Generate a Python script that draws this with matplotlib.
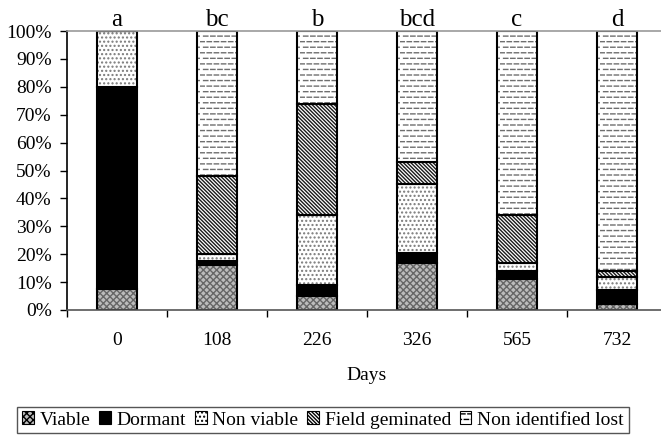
import warnings
import matplotlib
matplotlib.use("Agg")
import matplotlib.pyplot as plt
import numpy as np
from matplotlib.patches import Patch
from matplotlib import hatch as mhatch
from matplotlib.path import Path

warnings.filterwarnings("ignore")
plt.rcParams['font.family'] = ['Liberation Serif', 'DejaVu Serif']
plt.rcParams['hatch.linewidth'] = 1.0


class DashHatch(mhatch.HatchPatternBase):
    """Rows of short horizontal dashes, selected with '_'."""
    def __init__(self, hatch, density):
        self.rows = hatch.count('_') * density
        self.cols = 14
        self.num_vertices = self.rows * self.cols * 2

    def set_vertices_and_codes(self, vertices, codes):
        k = 0
        for i in range(self.rows):
            y = (i + 0.5) / self.rows
            off = 0.0 if i % 2 == 0 else 0.5 / self.cols
            for j in range(self.cols):
                x0 = j / self.cols + off
                x1 = x0 + 0.6 / self.cols
                vertices[k] = (x0, y)
                vertices[k + 1] = (x1, y)
                codes[k] = Path.MOVETO
                codes[k + 1] = Path.LINETO
                k += 2


mhatch._hatch_types.append(DashHatch)

days = ["0", "108", "226", "326", "565", "732"]
letters = ["a", "bc", "b", "bcd", "c", "d"]
series_names = ["Viable", "Dormant", "Non viable", "Field geminated", "Non identified lost"]
viable = [7.5, 16, 5, 17, 11, 2]
dormant = [72.5, 1.5, 4, 3.5, 3, 5]
non_viable = [20, 2.5, 25, 24.5, 3, 5]
field_germinated = [0, 28, 40, 8, 17, 2]
lost = [0, 52, 26, 47, 66, 86]

series = [viable, dormant, non_viable, field_germinated, lost]
# (facecolor, hatch, hatch color)
styles = [
    ("#bcbcbc", "xxxxx", "#666666"),
    ("black", None, "black"),
    ("white", "....", "#7a7a7a"),
    ("white", "\\" * 9, "#1a1a1a"),
    ("white", "___", "#6e6e6e"),
]

fig = plt.figure(figsize=(6.61, 4.37), dpi=100)
ax = fig.add_axes([67/661, 1 - 310/437, 600/661, 279/437])

x = np.arange(len(days))
w = 0.4
bottom = np.zeros(len(days))
for vals, (fc, h, hc) in zip(series, styles):
    vals = np.array(vals, dtype=float)
    ax.bar(x, vals, w, bottom=bottom, color=fc, edgecolor=hc, hatch=h, linewidth=0)
    ax.bar(x, vals, w, bottom=bottom, fill=False, edgecolor="black", linewidth=1.5)
    bottom += vals

ax.set_xlim(-0.5, len(days) - 0.5)
ax.set_ylim(0, 100)
ax.set_yticks(np.arange(0, 101, 10))
ax.set_yticklabels([f"{v}%" for v in range(0, 101, 10)], fontsize=14)
ax.set_xticks(x)
ax.set_xticklabels(days, fontsize=14)
ax.set_xticks(np.arange(-0.5, len(days), 1), minor=True)
ax.tick_params(axis="x", which="major", length=0, pad=16)
ax.tick_params(axis="x", which="minor", length=5, width=1, direction="out")
ax.tick_params(axis="y", length=5, width=1, direction="out", pad=6)
ax.set_xlabel("Days", fontsize=14, labelpad=13)

ax.spines["right"].set_visible(False)
ax.spines["top"].set_color("#999999")
ax.spines["left"].set_color("black")
ax.spines["bottom"].set_color("#555555")
for s in ax.spines.values():
    s.set_linewidth(1.2)

for xi, lt in zip(x, letters):
    ax.text(xi, 101.8, lt, ha="center", va="baseline", fontsize=18)

handles = [Patch(facecolor=fc, edgecolor="black", hatch=h, linewidth=0.8) for fc, h, hc in styles]
leg = fig.legend(handles, series_names, loc="center", bbox_to_anchor=(323/661, 1 - 420/437),
                 ncol=5, fontsize=14, handlelength=0.6, handleheight=0.6, handletextpad=0.3,
                 columnspacing=0.45, fancybox=False, edgecolor="#555555", borderpad=0.25,
                 framealpha=1)
leg.get_frame().set_linewidth(1.0)

fig.savefig("out.png", dpi=100)
